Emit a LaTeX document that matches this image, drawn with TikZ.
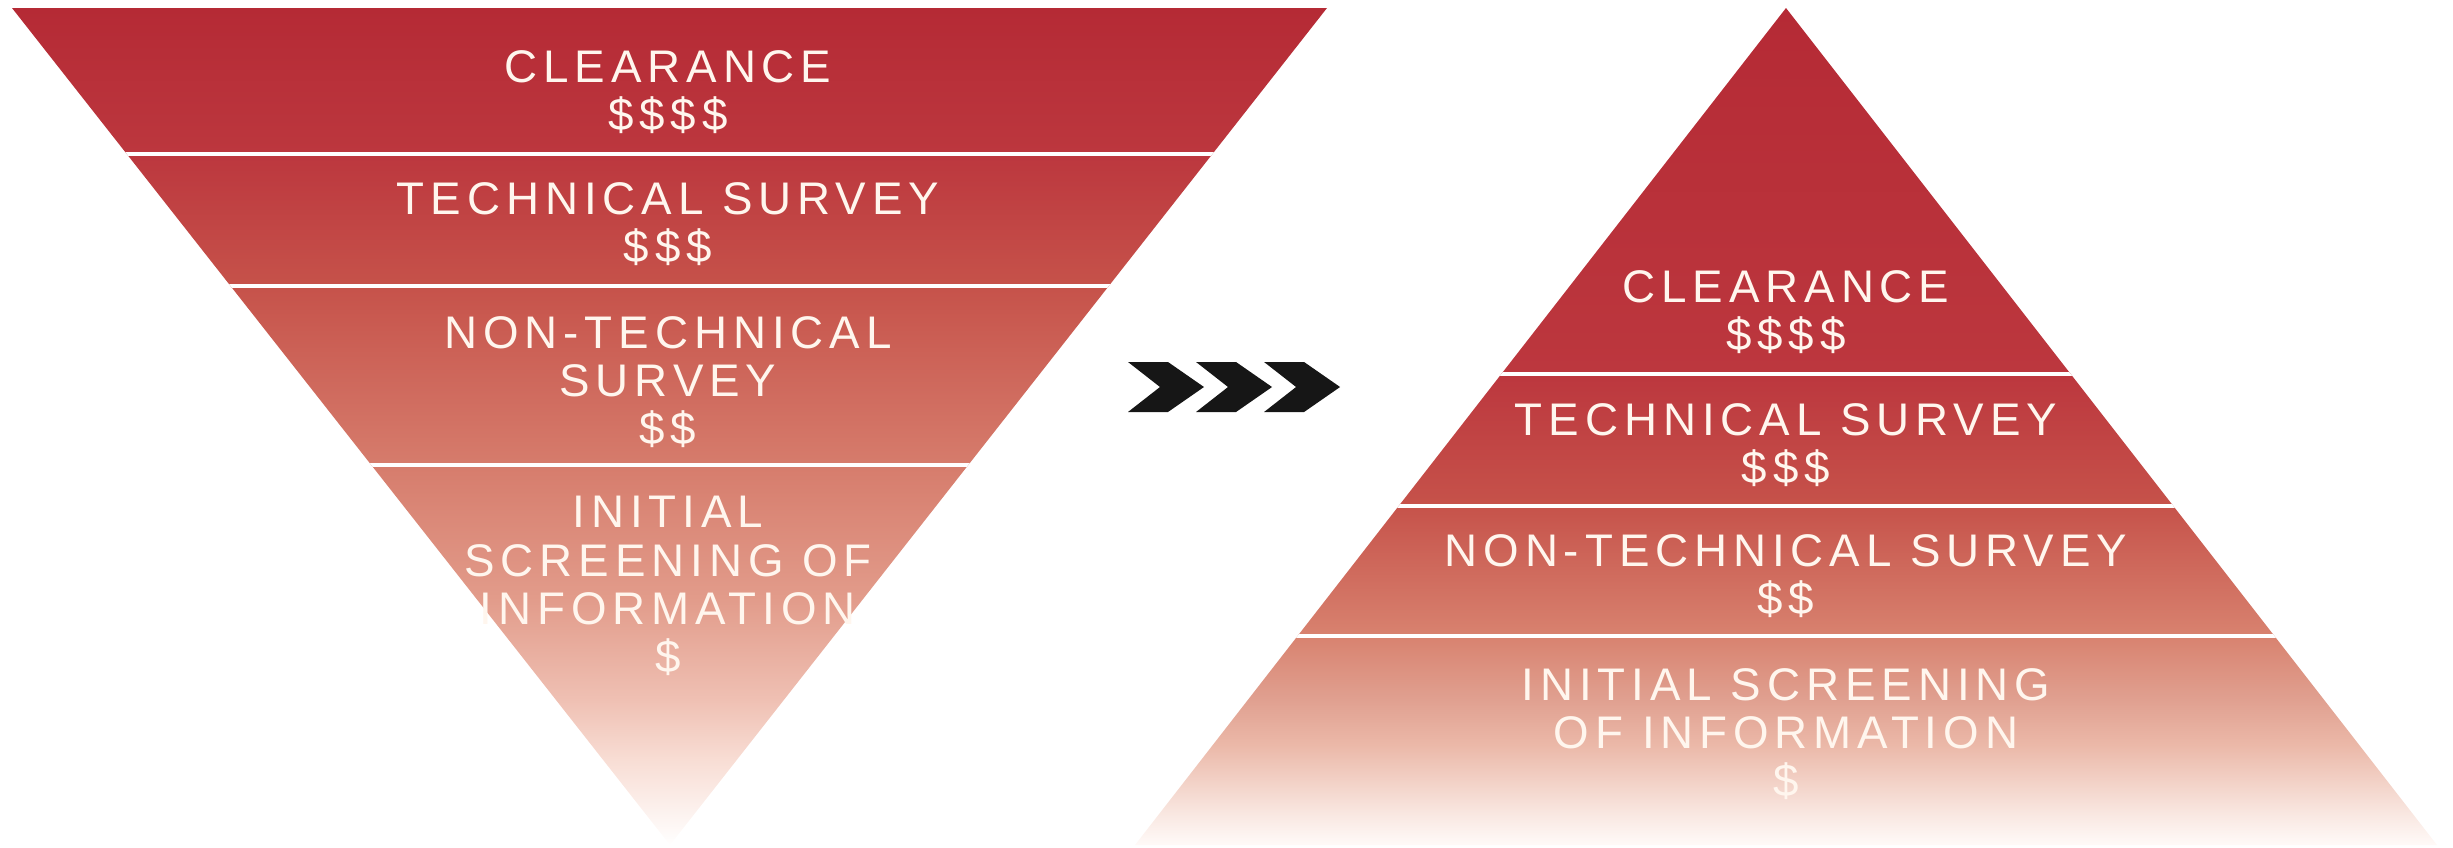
\documentclass[tikz,border=0pt]{standalone}
\usepackage{fontspec}
\newfontfamily\tierfont{Liberation Sans}[LetterSpace=13]

\definecolor{tierred}{HTML}{B52A35}
\definecolor{tierredb}{HTML}{BC373E}
\definecolor{tierredc}{HTML}{C6524A}
\definecolor{tiersalmon}{HTML}{D67C6C}
\definecolor{tierpink}{HTML}{E29C8B}
\definecolor{tierpale}{HTML}{EFC0B3}
\definecolor{tierblush}{HTML}{F8DDD4}
\definecolor{pyrsalmon}{HTML}{D8826F}
\definecolor{pyrpink}{HTML}{E0A090}
\definecolor{pyrpale}{HTML}{EBB8A8}
\definecolor{pyrblush}{HTML}{F2D0C5}
\definecolor{pyrmist}{HTML}{F9E8E2}
\definecolor{pyrwhite}{HTML}{FFFAF8}
\definecolor{tiertext}{HTML}{FFF6EE}
\definecolor{chevron}{HTML}{161616}

% funnel: light at the tip, dark at the top
\pgfdeclareverticalshading{funnelfade}{100bp}{color(0bp)=(white); color(25bp)=(white);
	color(30.1bp)=(tierblush); color(33.7bp)=(tierpale); color(39.6bp)=(tierpink);
	color(47.7bp)=(tiersalmon); color(58.4bp)=(tierredc); color(66.3bp)=(tierredb);
	color(75bp)=(tierred); color(100bp)=(tierred)}
% pyramid: the light part sits lower down
\pgfdeclareverticalshading{pyramidfade}{100bp}{color(0bp)=(pyrwhite); color(25bp)=(pyrwhite);
	color(26.8bp)=(pyrmist); color(28.9bp)=(pyrblush); color(31bp)=(pyrpale);
	color(33.7bp)=(pyrpink); color(37.5bp)=(pyrsalmon);
	color(45.3bp)=(tierredc); color(53.1bp)=(tierredb);
	color(75bp)=(tierred); color(100bp)=(tierred)}

\tikzset{
	tier/.style={text=tiertext, font=\tierfont\fontsize{13}{13.7}\selectfont, align=center, inner sep=0pt},
	divider/.style={draw=white, line width=1.4pt},
}

\begin{document}
\begin{tikzpicture}[x=0.01cm, y=-0.01cm]
		
		\useasboundingbox (0,0) rectangle (2453,848);
		
		% Corner points
		\coordinate (fun-tl) at (12,8);
		\coordinate (fun-tr) at (1327,8);
		\coordinate (fun-tip) at (670,845);
		\coordinate (pyr-top) at (1786,8);
		\coordinate (pyr-bl) at (1135,845);
		\coordinate (pyr-br) at (2437,845);
		
		% Draw Funnel
		\begin{scope}
			\clip (fun-tl) -- (fun-tr) -- (fun-tip) -- cycle;
			\shade[shading=funnelfade] (fun-tl) -- (fun-tr) -- (fun-tip) -- cycle;
			\foreach \y in {154,286,465}
				\draw[divider] (0,\y) -- (1340,\y);
		\end{scope}
		
		% Draw Pyramid
		\begin{scope}
			\clip (pyr-top) -- (pyr-br) -- (pyr-bl) -- cycle;
			\shade[shading=pyramidfade] (pyr-top) -- (pyr-br) -- (pyr-bl) -- cycle;
			\foreach \y in {374,506,636}
				\draw[divider] (1100,\y) -- (2453,\y);
		\end{scope}
		
		% Chevrons
		\foreach \i in {0,1,2}
			\fill[chevron, xshift=\i*0.68cm] (1128,362) -- (1168,362) -- (1204,387)
				-- (1168,412) -- (1128,412) -- (1160,387) -- cycle;
		
		% Labels
		\node[tier] (fun-clr) at (668,92) {CLEARANCE\\\$\$\$\$};
		\node[tier] (fun-ts) at (668,224) {TECHNICAL SURVEY\\\$\$\$};
		\node[tier] (fun-nts) at (668,382) {NON-TECHNICAL\\SURVEY\\\$\$};
		\node[tier] (fun-isi) at (668,586) {INITIAL\\SCREENING OF\\INFORMATION\\\$};
		
		\node[tier] (pyr-clr) at (1786,312) {CLEARANCE\\\$\$\$\$};
		\node[tier] (pyr-ts) at (1786,445) {TECHNICAL SURVEY\\\$\$\$};
		\node[tier] (pyr-nts) at (1786,576) {NON-TECHNICAL SURVEY\\\$\$};
		\node[tier] (pyr-isi) at (1786,734) {INITIAL SCREENING\\OF INFORMATION\\\$};
		
\end{tikzpicture}
\end{document}
